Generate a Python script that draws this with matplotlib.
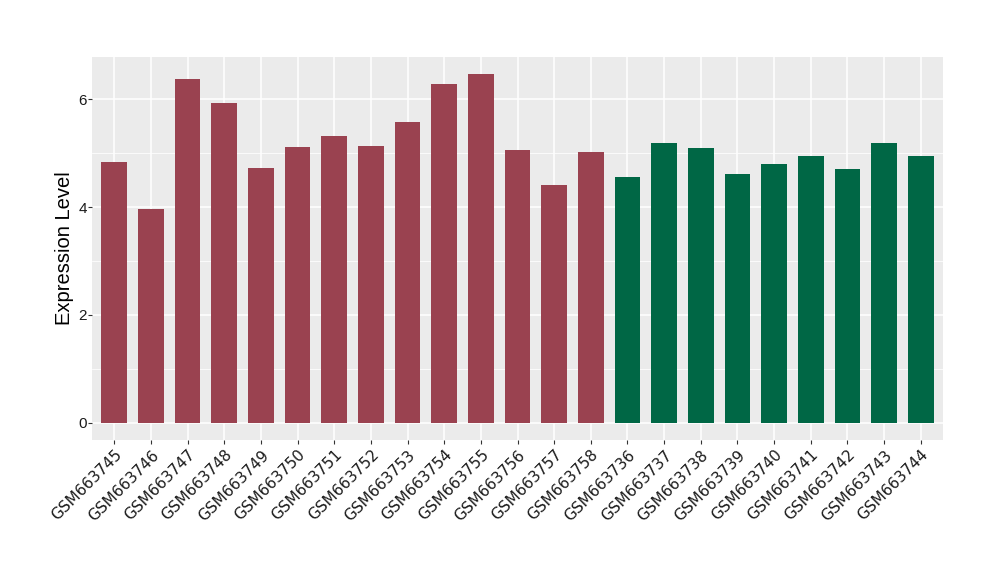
import matplotlib
matplotlib.use("Agg")
import matplotlib.pyplot as plt
from matplotlib.ticker import MultipleLocator

samples = ["GSM663745", "GSM663746", "GSM663747", "GSM663748", "GSM663749",
           "GSM663750", "GSM663751", "GSM663752", "GSM663753", "GSM663754",
           "GSM663755", "GSM663756", "GSM663757", "GSM663758", "GSM663736",
           "GSM663737", "GSM663738", "GSM663739", "GSM663740", "GSM663741",
           "GSM663742", "GSM663743", "GSM663744"]
values = [4.84, 3.96, 6.38, 5.93, 4.72, 5.11, 5.32, 5.13, 5.58, 6.29,
          6.47, 5.06, 4.41, 5.02, 4.56, 5.19, 5.10, 4.61, 4.80, 4.95,
          4.71, 5.19, 4.95]
groups = ["A"] * 14 + ["B"] * 9
group_colors = {"A": "#9A4250", "B": "#006745"}

plt.rcParams['font.family'] = ['Liberation Sans', 'DejaVu Sans']

fig = plt.figure(figsize=(10, 5.8), dpi=100)
ax = fig.add_axes([0.0923, 0.2414, 0.8504, 0.6608])
ax.set_facecolor("#EBEBEB")

x = list(range(len(samples)))
ax.bar(x, values, width=0.7, color=[group_colors[g] for g in groups], zorder=3)

vmax = max(values)
ax.set_ylim(-0.05 * vmax, vmax * 1.05)
ax.set_xlim(-0.6, len(samples) - 1 + 0.6)

ax.yaxis.set_major_locator(MultipleLocator(2))
ax.yaxis.set_minor_locator(MultipleLocator(1))
ax.grid(which="major", axis="both", color="white", linewidth=1.1, zorder=1)
ax.grid(which="minor", axis="y", color="white", linewidth=0.55, zorder=1)
ax.tick_params(axis="y", which="minor", length=0)

ax.set_xticks(x)
labels = ax.set_xticklabels(samples, rotation=45, ha="right", rotation_mode="anchor",
                            fontsize=11, color="#1A1A1A")
for t in labels:
    t.set_fontfamily("DejaVu Sans")
ax.tick_params(axis="both", which="major", length=2.75, width=0.8, color="#333333",
               labelcolor="#1A1A1A")
ax.tick_params(axis="y", labelsize=11, pad=1.2)
ax.tick_params(axis="x", pad=2.5)
ax.set_ylabel("Expression Level", fontsize=14.5, color="black", labelpad=3)

for s in ax.spines.values():
    s.set_visible(False)

fig.savefig("out.png", dpi=100)
